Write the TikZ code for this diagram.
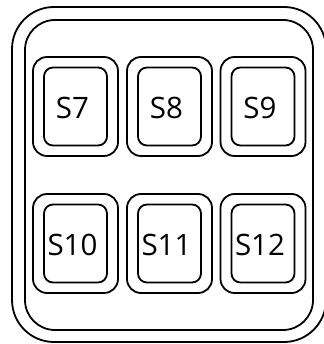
\documentclass[tikz,border=0pt]{standalone}
\usepackage{fontspec}
\setmainfont{Open Sans}
\begin{document}
\begin{tikzpicture}[x=1pt,y=1pt,line width=1.8pt,
  keyouter/.style={draw,rounded corners=14pt,minimum width=85pt,minimum height=99pt,inner sep=0pt},
  keyinner/.style={draw,rounded corners=9pt,minimum width=63pt,minimum height=78pt,inner sep=0pt},
  keylabel/.style={font=\fontsize{29.5}{31}\selectfont,inner sep=0pt}]
\useasboundingbox (0,0) rectangle (323,344);
% frames
\draw[rounded corners=42pt] (12,2) rectangle (326,337);
\draw[rounded corners=30pt] (25,14) rectangle (313,324);
% keys
\foreach \n/\x/\y in {7/75.5/237.5, 8/169.5/237.5, 9/263/237.5, 10/75.5/100.5, 11/169.5/100.5, 12/263/100.5}{
  \node[keyouter] (ko\n) at (\x,\y) {};
  \node[keyinner] (ki\n) at (\x,\y) {};
  \node[keylabel] (kl\n) at ([xshift=-3pt,yshift=-1pt]ki\n.center) {S\n};
}
\end{tikzpicture}
\end{document}
